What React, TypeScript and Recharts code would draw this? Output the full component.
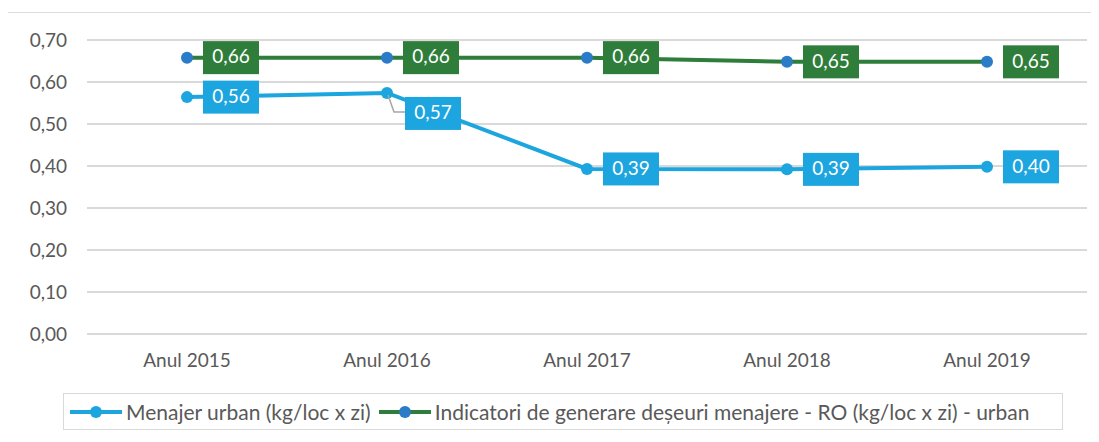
import {
  LineChart,
  Line,
  XAxis,
  YAxis,
  CartesianGrid,
  Legend,
  LabelList,
} from "recharts";

const years = ["Anul 2015", "Anul 2016", "Anul 2017", "Anul 2018", "Anul 2019"];
const menajerUrban = [0.564, 0.574, 0.393, 0.392, 0.398];
const indicatoriRO = [0.658, 0.658, 0.658, 0.648, 0.648];
const yTicks = [0, 0.1, 0.2, 0.3, 0.4, 0.5, 0.6, 0.7];

const SERIES_A = "Menajer urban (kg/loc x zi)";
const SERIES_B = "Indicatori de generare deșeuri menajere - RO (kg/loc x zi) - urban";

const data = years.map((year, i) => ({
  year,
  urban: menajerUrban[i],
  ro: indicatoriRO[i],
}));

const BLUE = "#1ca5df";
const GREEN = "#2f7d3a";
const DOT_BLUE = "#2a7bc8";
const FONT = "Lato, 'Open Sans', sans-serif";

const fmt = (v: number) => v.toFixed(2).replace(".", ",");

function makeLabel(fill: string, shifted: number[]) {
  return (props: any) => {
    const { x, y, value, index } = props;
    const w = 56;
    const h = 33;
    const down = shifted.includes(index);
    const bx = x + (down ? 18 : 16);
    const by = down ? y + 4 : y - h / 2;
    return (
      <g>
        {down && (
          <polyline
            points={`${x + 1},${y + 2} ${x + 7},${y + 19} ${bx},${y + 19}`}
            fill="none"
            stroke="#a6a6a6"
            strokeWidth={1.5}
          />
        )}
        <rect x={bx} y={by} width={w} height={h} fill={fill} />
        <text
          x={bx + w / 2}
          y={by + h / 2 + 1}
          textAnchor="middle"
          dominantBaseline="middle"
          fill="#ffffff"
          fontSize={19}
          fontFamily={FONT}
        >
          {fmt(value)}
        </text>
      </g>
    );
  };
}

function LegendIcon({ line, dot }: { line: string; dot: string }) {
  return (
    <svg width={56} height={20} style={{ verticalAlign: "middle" }}>
      <line x1={2} y1={10} x2={54} y2={10} stroke={line} strokeWidth={4} />
      <circle cx={28} cy={10} r={6} fill={dot} />
    </svg>
  );
}

function LegendBox() {
  return (
    <div
      style={{
        border: "1px solid #d9d9d9",
        height: 35,
        display: "flex",
        alignItems: "center",
        paddingLeft: 4,
        fontFamily: FONT,
        fontSize: 21,
        color: "#595959",
        whiteSpace: "nowrap",
      }}
    >
      <LegendIcon line={BLUE} dot={BLUE} />
      <span style={{ marginLeft: 2, marginRight: 6 }}>{SERIES_A}</span>
      <LegendIcon line={GREEN} dot={DOT_BLUE} />
      <span style={{ marginLeft: 2 }}>{SERIES_B}</span>
    </div>
  );
}

export default function App() {
  return (
    <div
      style={{
        marginTop: 4,
        marginLeft: -1,
        borderTop: "1px solid #dcdcdc",
        borderLeft: "1px solid #dcdcdc",
        width: 1092,
        height: 430,
      }}
    >
      <LineChart
        width={1090}
        height={429}
        data={data}
        margin={{ top: 27, right: 11, left: 0, bottom: 41 }}
      >
        <CartesianGrid vertical={false} stroke="#d9d9d9" strokeWidth={2} />
        <XAxis
          dataKey="year"
          padding={{ left: 100, right: 100 }}
          axisLine={{ stroke: "#d9d9d9", strokeWidth: 2 }}
          tickLine={false}
          tickSize={0}
          tickMargin={20}
          height={30}
          tick={{ fill: "#595959", fontSize: 19, fontFamily: FONT }}
        />
        <YAxis
          domain={[0, 0.7]}
          ticks={yTicks}
          tickFormatter={fmt}
          axisLine={false}
          tickLine={false}
          tickSize={0}
          tickMargin={20}
          width={79}
          tick={{ fill: "#595959", fontSize: 19, fontFamily: FONT }}
        />
        <Legend
          verticalAlign="bottom"
          content={() => <LegendBox />}
          wrapperStyle={{ left: 55, width: 1000, top: 380, bottom: "auto" }}
        />
        <Line
          type="linear"
          dataKey="urban"
          name={SERIES_A}
          stroke={BLUE}
          strokeWidth={4}
          dot={{ r: 6, fill: BLUE, stroke: "none" }}
          isAnimationActive={false}
        >
          <LabelList dataKey="urban" content={makeLabel(BLUE, [1])} />
        </Line>
        <Line
          type="linear"
          dataKey="ro"
          name={SERIES_B}
          stroke={GREEN}
          strokeWidth={4}
          dot={{ r: 6, fill: DOT_BLUE, stroke: "none" }}
          isAnimationActive={false}
        >
          <LabelList dataKey="ro" content={makeLabel(GREEN, [])} />
        </Line>
      </LineChart>
    </div>
  );
}
